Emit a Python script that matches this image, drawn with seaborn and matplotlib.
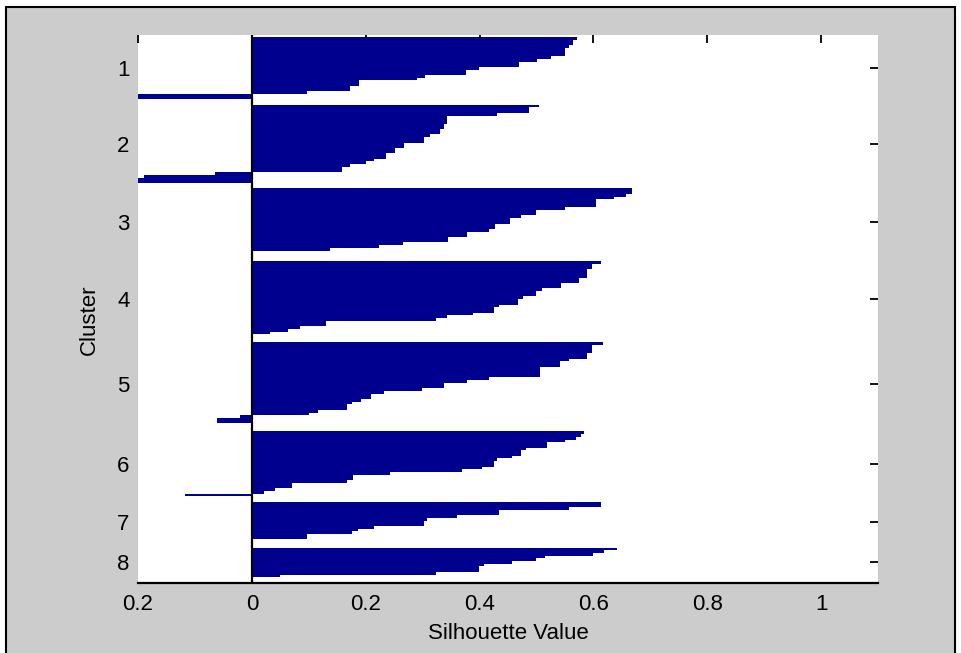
import numpy as np
import pandas as pd
import matplotlib
matplotlib.use("Agg")
import matplotlib.pyplot as plt
from matplotlib.patches import Rectangle
import seaborn as sns

# ---- data: silhouette values (sorted within cluster) and number of points per step ----
c1_vals = [0.571, 0.565, 0.557, 0.551, 0.525, 0.501, 0.469, 0.399, 0.376, 0.305, 0.290, 0.188, 0.173, 0.097, -0.21]
c1_cnts = [1, 2, 1, 3, 1, 1, 2, 1, 2, 1, 1, 2, 2, 1, 2]
c2_vals = [0.504, 0.487, 0.431, 0.342, 0.337, 0.331, 0.313, 0.303, 0.267, 0.252, 0.235, 0.214, 0.200, 0.173, 0.158, -0.065, -0.19, -0.21]
c2_cnts = [1, 2, 1, 3, 2, 2, 1, 2, 2, 2, 2, 1, 1, 1, 2, 1, 1, 2]
c3_vals = [0.668, 0.657, 0.636, 0.604, 0.551, 0.500, 0.472, 0.453, 0.428, 0.417, 0.378, 0.345, 0.266, 0.223, 0.138, 0.0]
c3_cnts = [2, 1, 1, 3, 1, 2, 1, 2, 2, 1, 2, 2, 1, 1, 1, 2]
c4_vals = [0.613, 0.598, 0.589, 0.575, 0.543, 0.510, 0.500, 0.477, 0.468, 0.434, 0.425, 0.389, 0.342, 0.323, 0.131, 0.084, 0.064, 0.032, 0.0]
c4_cnts = [1, 2, 3, 2, 2, 1, 2, 1, 2, 1, 2, 1, 1, 1, 2, 1, 1, 1, 1]
c5_vals = [0.617, 0.598, 0.588, 0.557, 0.542, 0.507, 0.417, 0.378, 0.337, 0.299, 0.232, 0.210, 0.192, 0.176, 0.168, 0.116, 0.100, -0.020, -0.061, 0.0]
c5_cnts = [1, 3, 2, 1, 2, 4, 1, 1, 2, 1, 1, 2, 1, 1, 2, 1, 1, 1, 2, 1]
c6_vals = [0.583, 0.578, 0.569, 0.551, 0.519, 0.481, 0.472, 0.457, 0.431, 0.425, 0.405, 0.370, 0.242, 0.177, 0.168, 0.070, 0.040, 0.021, -0.118]
c6_cnts = [1, 1, 1, 1, 2, 1, 2, 1, 1, 2, 1, 1, 1, 2, 1, 2, 1, 1, 1]
c7_vals = [0.613, 0.557, 0.435, 0.361, 0.308, 0.303, 0.214, 0.186, 0.176, 0.097, 0.0]
c7_cnts = [2, 1, 2, 1, 1, 2, 1, 1, 1, 2, 1]
c8_vals = [0.641, 0.619, 0.599, 0.515, 0.500, 0.457, 0.407, 0.399, 0.323, 0.050]
c8_cnts = [1, 1, 1, 1, 1, 1, 1, 2, 1, 1]

cluster_labels = ["1", "2", "3", "4", "5", "6", "7", "8"]
xtick_vals = [-0.2, 0, 0.2, 0.4, 0.6, 0.8, 1]
xtick_labels = ["0.2", "0", "0.2", "0.4", "0.6", "0.8", "1"]
x_label = "Silhouette Value"
y_label = "Cluster"

# ---- build table: one row per point, with gaps between clusters ----
clusters = [(c1_vals, c1_cnts), (c2_vals, c2_cnts), (c3_vals, c3_cnts), (c4_vals, c4_cnts),
            (c5_vals, c5_cnts), (c6_vals, c6_cnts), (c7_vals, c7_cnts), (c8_vals, c8_cnts)]
top_space, gap_space, bottom_space = 1, 2, 2
rows_v, rows_p, centers = [], [], []
pos = top_space
for vals, cnts in clusters:
    start = pos
    s = np.repeat(vals, cnts)
    for v in s:
        rows_v.append(v)
        rows_p.append(pos + 0.5)
        pos += 1
    centers.append((start + pos) / 2)
    pos += gap_space
n_total = pos - gap_space + bottom_space
df = pd.DataFrame({"value": rows_v, "pos": rows_p})

# ---- figure ----
sns.set_style("white")
plt.rcParams["font.family"] = ["Liberation Sans", "DejaVu Sans"]

W, H = 962, 653
fig = plt.figure(figsize=(W / 100, H / 100), dpi=100)
fig.patch.set_facecolor("white")
fig.patches.append(Rectangle((6 / W, -0.02), (955 - 6) / W, (653 - 7) / H + 0.02,
                             transform=fig.transFigure, facecolor="#cccccc",
                             edgecolor="black", linewidth=1.5, zorder=-10))

ax = fig.add_axes([138 / W, 1 - 582.7 / H, 740 / W, 548.2 / H])
ax.set_facecolor("white")

navy = "#00008f"
sns.barplot(data=df, x="value", y="pos", orient="h", native_scale=True, width=1.0,
            color=navy, saturation=1, errorbar=None, linewidth=0, ax=ax)

ax.axvline(0, color="black", linewidth=1.6, zorder=5)
ax.set_xlim(-0.2, 1.1)
ax.set_ylim(n_total, 0)

ax.set_xticks(xtick_vals)
ax.set_xticklabels(xtick_labels)
ax.set_yticks(centers)
ax.set_yticklabels(cluster_labels)
ax.tick_params(direction="in", length=5.5, width=1.3, top=True, right=True,
               labelsize=16, colors="black", pad=6)
ax.tick_params(axis="x", pad=8)

for side in ["top", "right", "left"]:
    ax.spines[side].set_visible(False)
ax.spines["bottom"].set_color("black")
ax.spines["bottom"].set_linewidth(1.6)

ax.set_xlabel(x_label, fontsize=16, labelpad=6, color="black")
ax.set_ylabel(y_label, fontsize=16, color="black")
ax.yaxis.set_label_coords(-0.051, 0.48)

fig.savefig("out.png", dpi=100, facecolor=fig.get_facecolor())
